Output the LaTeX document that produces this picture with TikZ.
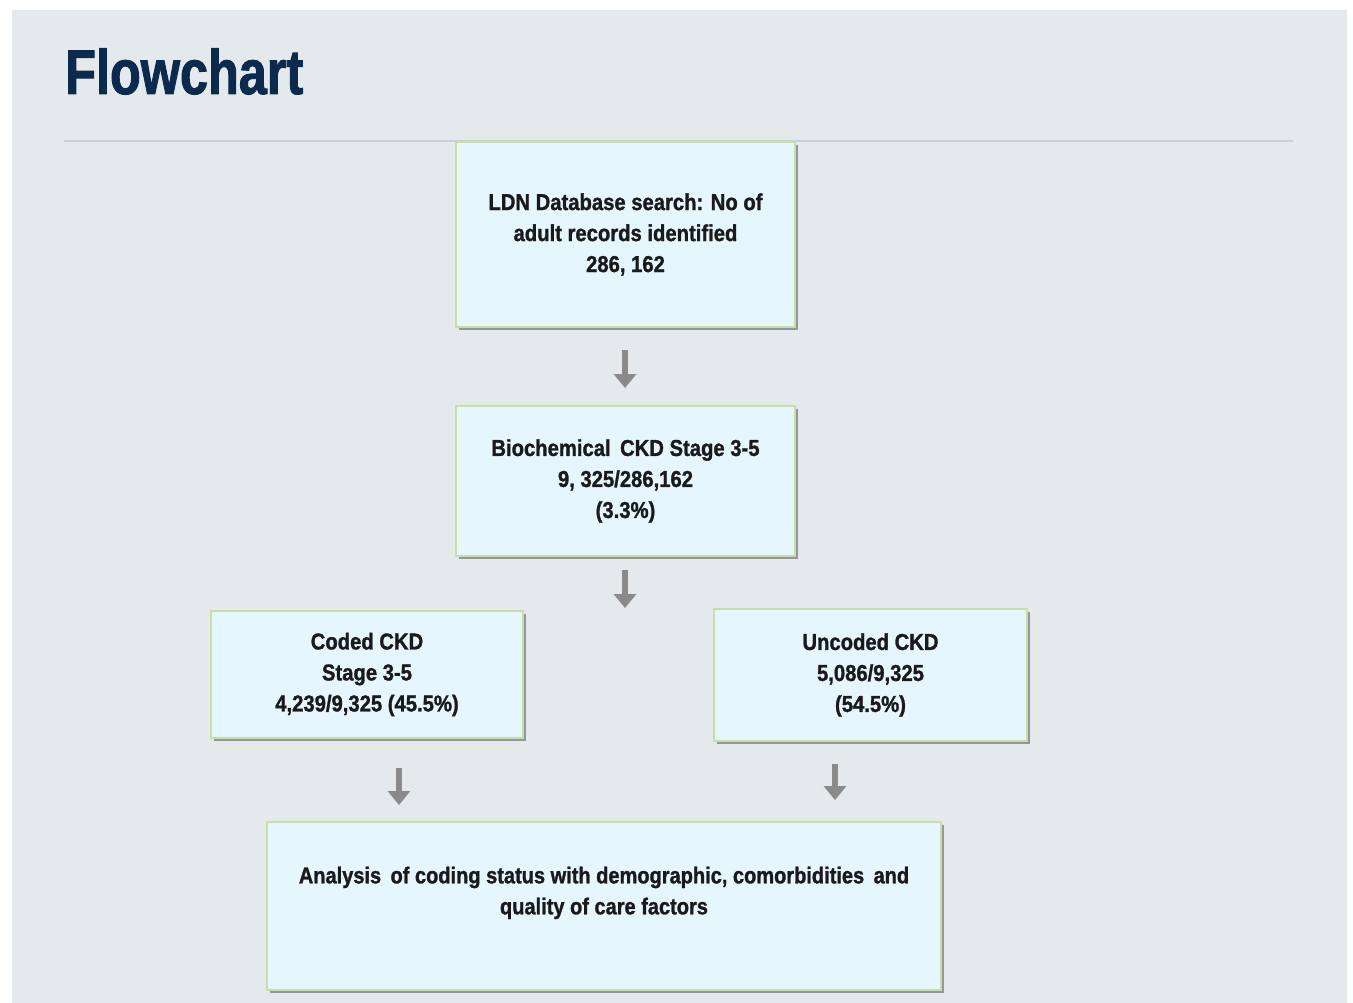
\documentclass[tikz,border=0pt]{standalone}
\usepackage{fontspec}
\setmainfont{Liberation Sans}
\newfontfamily\boxfont[FakeStretch=0.88,FakeBold=1.2]{Liberation Sans}
\newfontfamily\lastfont[FakeStretch=0.87,FakeBold=1.2]{Liberation Sans}
\newfontfamily\titlefont[FakeStretch=0.80,FakeBold=1.5]{Liberation Sans}
\usetikzlibrary{shadows,arrows.meta}
\definecolor{panel}{HTML}{E4E9EC}
\definecolor{navy}{HTML}{0B2A4E}
\definecolor{rulec}{HTML}{C9CFD4}
\definecolor{boxfill}{HTML}{E6F6FE}
\definecolor{boxline}{HTML}{C6DFA6}
\definecolor{arrowc}{HTML}{8A8A8A}
\definecolor{txt}{HTML}{1A1A1A}
\tikzset{
  flowbox/.style={draw=boxline, line width=2pt, fill=boxfill,
    drop shadow={shadow xshift=3pt, shadow yshift=-3pt, fill=black, opacity=0.35},
    font=\boxfont\bfseries\fontsize{23}{31}\selectfont, text=txt,
    align=center, inner sep=0pt},
  blockarrow/.style={draw=arrowc, line width=6pt,
    -{Triangle[width=22pt,length=14pt]}}
}
\begin{document}
\begin{tikzpicture}[x=1pt,y=-1pt]
\useasboundingbox (0,0) rectangle (1353,1003);
\fill[white] (0,0) rectangle (1353,1003);
\fill[panel] (12,10) rectangle (1347,1003);
\node[anchor=base west, text=navy, font=\titlefont\bfseries\fontsize{63}{63}\selectfont, inner sep=0pt] (title) at (65,94) {Flowchart};
\draw[rulec, line width=1.5pt] (64,141) coordinate (r1) -- (1293,141) coordinate (r2);

\node[flowbox, minimum width=339pt, minimum height=185pt] (b1) at (625.5,234.5)
  {LDN Database search: No of\\adult records identified\\286, 162};
\node[flowbox, minimum width=339pt, minimum height=150pt] (b2) at (625.5,481)
  {Biochemical\, CKD Stage 3-5\\9, 325/286,162\\(3.3\%)};
\node[flowbox, minimum width=312pt, minimum height=127pt] (b3) at (367,674.5)
  {Coded CKD\\Stage 3-5\\4,239/9,325 (45.5\%)};
\node[flowbox, minimum width=313pt, minimum height=132pt] (b4) at (870.5,675)
  {Uncoded CKD\\5,086/9,325\\(54.5\%)};
\node[flowbox, minimum width=674pt, minimum height=168pt,
  font=\lastfont\bfseries\fontsize{23}{31}\selectfont] (b5) at (604,906)
  {Analysis\, of coding status with demographic, comorbidities\, and\\quality of care factors\\\mbox{}};

\coordinate (a1s) at (625,350); \coordinate (a1e) at (625,388);
\coordinate (a2s) at (625,570); \coordinate (a2e) at (625,608);
\coordinate (a3s) at (399,768); \coordinate (a3e) at (399,805);
\coordinate (a4s) at (835,764); \coordinate (a4e) at (835,800);
\draw[blockarrow] (a1s) -- (a1e);
\draw[blockarrow] (a2s) -- (a2e);
\draw[blockarrow] (a3s) -- (a3e);
\draw[blockarrow] (a4s) -- (a4e);
\end{tikzpicture}
\end{document}
